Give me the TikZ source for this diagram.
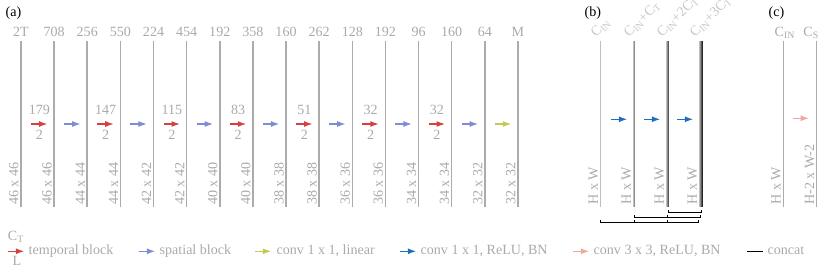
\documentclass[tikz,border=0pt]{standalone}
\usepackage{fontspec}
\setmainfont{Liberation Serif}
\usetikzlibrary{arrows.meta}
\definecolor{tempred}{RGB}{214,64,64}
\definecolor{spatblue}{RGB}{128,140,210}
\definecolor{linyellow}{RGB}{200,200,80}
\definecolor{convblue}{RGB}{30,110,190}
\definecolor{convpink}{RGB}{240,168,158}
\definecolor{txtgray}{RGB}{170,170,170}
\begin{document}
\begin{tikzpicture}[x=0.025cm, y=-0.025cm,
    every node/.style={font=\fontsize{10}{12}\selectfont, text=txtgray, inner sep=1pt},
    fmap/.style={draw=black!33, line width=1.1pt},
    blk/.style={line width=1.1pt, -{Latex[length=6.2pt,width=4.3pt]}},
    dim/.style={rotate=90, anchor=south west, inner sep=1.5pt},
    chan/.style={anchor=base},
    panel/.style={text=black, anchor=base west},
    concat/.style={draw=black, line width=0.5pt}
]
\useasboundingbox (0,0) rectangle (830,275);

% (a) full network
\node[panel] (pa) at (4,16.5) {(a)};
\foreach \tp/\bt [count=\i from 0] in {2T/46 x 46, 708/46 x 46, 256/44 x 44, 550/44 x 44,
    224/42 x 42, 454/42 x 42, 192/40 x 40, 358/40 x 40, 160/38 x 38, 262/38 x 38,
    128/36 x 36, 192/36 x 36, 96/34 x 34, 160/34 x 34, 64/32 x 32, M/32 x 32} {
  \pgfmathsetmacro\x{21+33.13*\i}
  \coordinate (a\i) at (\x,41);
  \coordinate (a\i b) at (\x,207);
  \draw[fmap] (a\i) -- (a\i b);
  \node[chan] (ach\i) at (\x,36.7) {\tp};
  \node[dim] (adim\i) at (a\i b) {\bt};
}
\foreach \i/\c in {0/179, 2/147, 4/115, 6/83, 8/51, 10/32, 12/32} {
  \pgfmathsetmacro\x{21+33.13*\i}
  \draw[blk, tempred] (\x+10,124) -- ++(16.7,0);
  \node[chan] (ac\i) at (\x+18.3,115) {\c};
  \node[chan] (al\i) at (\x+18.3,139.3) {2};
}
\foreach \i in {1,3,...,13} {
  \pgfmathsetmacro\x{21+33.13*\i}
  \draw[blk, spatblue] (\x+10,124) -- ++(16.7,0);
}
\draw[blk, linyellow] ({21+33.13*14+10},124) -- ++(16.7,0);

% (b) dense block
\node[panel] (pb) at (583,16.5) {(b)};
\foreach \x/\k/\lbl [count=\i from 0] in {601/0/C\textsubscript{IN}, 634/1/C\textsubscript{IN}+C\textsubscript{T},
    667/2/C\textsubscript{IN}+2C\textsubscript{T}, 700/3/C\textsubscript{IN}+3C\textsubscript{T}} {
  \foreach \j/\g in {0/25,1/45,2/65,3/85} {
    \ifnum\j>\k\else
      \draw[draw=black!\g, line width=0.75pt] (\x-0.5+\j,41) -- (\x-0.5+\j,207);
    \fi
  }
  \coordinate (b\i b) at (\x-0.5,207);
  \node[rotate=45, anchor=base west, text=black!22] (bch\i) at (\x-6,39) {\lbl};
  \node[dim] (bdim\i) at (b\i b) {H x W};
}
\foreach \x in {601,634,667} {
  \draw[blk, convblue] (\x+10,119.3) -- ++(16.5,0);
}
\draw[concat] (668.3,210) -- (668.3,212.5) -- (701,212.5) -- (701,210);
\draw[concat] (634,215) -- (634,217.5) -- (700,217.5) -- (700,215);
\draw[concat] (667.3,215) -- (667.3,217.5);
\draw[concat] (600.5,220.2) -- (600.5,222.7) -- (698.5,222.7) -- (698.5,220.2);
\draw[concat] (634,220.2) -- (634,222.7);
\draw[concat] (667.3,220.2) -- (667.3,222.7);

% (c) conv block
\node[panel] (pc) at (767,16.5) {(c)};
\draw[fmap] (783.3,41) -- (783.3,207) coordinate (c0b);
\draw[fmap] (816.7,41) -- (816.7,207) coordinate (c1b);
\node[anchor=base west] (cch0) at (773,36.7) {C\textsubscript{IN}};
\node[anchor=base west] (cch1) at (801.7,36.7) {C\textsubscript{S}};
\node[dim] (cdim0) at (c0b) {H x W};
\node[dim] (cdim1) at (c1b) {H-2 x W-2};
\draw[blk, convpink] (792.7,118.3) -- ++(16.6,0);

% legend
\draw[blk, tempred] (8,251.3) -- (24.5,251.3);
\node[chan] (lct) at (16,240.7) {C\textsubscript{T}};
\node[chan] (ll) at (17,266) {L};
\node[anchor=base west] (lt) at (27,254.8) {temporal block};
\draw[blk, spatblue] (139,251.3) -- (155.5,251.3);
\node[anchor=base west] (ls) at (158,254.8) {spatial block};
\draw[blk, linyellow] (255,251.3) -- (271.5,251.3);
\node[anchor=base west] (ly) at (275,254.8) {conv 1 x 1, linear};
\draw[blk, convblue] (400,251.3) -- (416.5,251.3);
\node[anchor=base west] (lb) at (419,254.8) {conv 1 x 1, ReLU, BN};
\draw[blk, convpink] (573,251.3) -- (589.5,251.3);
\node[anchor=base west] (lp) at (592,254.8) {conv 3 x 3, ReLU, BN};
\draw[concat, line width=0.7pt] (747,251.3) -- (763,251.3);
\node[anchor=base west] (lc) at (766,254.8) {concat};
\end{tikzpicture}
\end{document}
